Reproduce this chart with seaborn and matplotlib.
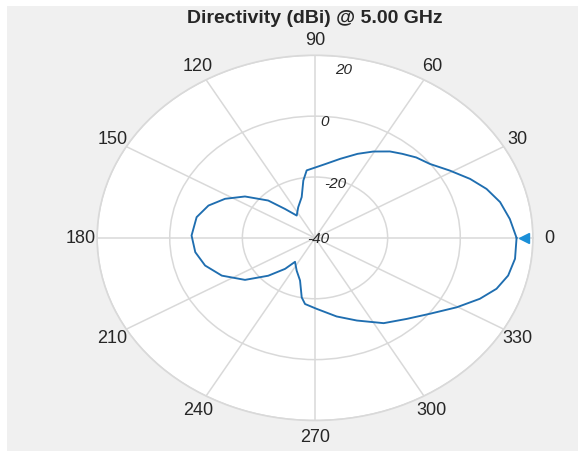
import numpy as np
import pandas as pd
import matplotlib.pyplot as plt
import seaborn as sns
from matplotlib.patches import Rectangle

# Directivity pattern (azimuth in degrees, value in dBi)
angles_deg = [0, 6.6, 13, 18.8, 24.4, 30.8, 37.5, 43.5, 49, 54, 60.5, 67, 75, 83, 90, 95.9,
              99.7, 105.3, 114.6, 124.5, 131, 136.4, 144.8, 152.6, 160.1, 168.2, 178.7, 188.1,
              196.7, 205.8, 215.6, 224, 231, 235, 244.9, 253.6, 259.4, 262.8, 271, 283, 293,
              304, 313.5, 321.8, 329.7, 336.2, 341.5, 346.9, 352.9, 360]
directivity_dbi = [15.5, 14.0, 12.3, 9.9, 6.9, 3.2, -0.1, -1.6, -3.4, -4.9, -7.4, -10.0, -13.1,
                   -15.5, -16.9, -17.7, -20.9, -26.1, -28.9, -31.1, -27.4, -22.2, -16.4, -12.1,
                   -8.8, -6.7, -6.0, -6.7, -8.4, -11.5, -16.3, -22.1, -26.9, -30.4, -28.1,
                   -25.4, -20.1, -18.1, -16.7, -13.5, -10.5, -6.2, -3.3, 0.3, 5.2, 9.6, 12.7,
                   14.6, 15.5, 15.5]

theta_ticks = [0, 30, 60, 90, 120, 150, 180, 210, 240, 270, 300, 330]
theta_labels = [str(t) for t in theta_ticks]
r_ticks = [-40, -20, 0, 20]
r_labels = ["-40", "-20", "0", "20"]

line_color = "#1f6eb0"
grid_color = "#d9d9d9"
text_color = "#262626"

sns.set_theme(style="white")
plt.rcParams['font.family'] = ['Liberation Sans', 'DejaVu Sans']

df = pd.DataFrame({"theta": np.deg2rad(angles_deg), "dbi": directivity_dbi})

fig = plt.figure(figsize=(5.78, 4.52), dpi=100)
fig.patch.set_facecolor("white")
fig.patches.append(Rectangle((7 / 578, 0), 1, (452 - 7) / 452, transform=fig.transFigure,
                             facecolor="#f0f0f0", edgecolor="none", zorder=-10))

ax = fig.add_axes([0.168, 0.0675, 0.754, 0.808], projection="polar")
ax.set_aspect("auto")
ax.set_facecolor("white")

sns.lineplot(data=df, x="theta", y="dbi", ax=ax, color=line_color, lw=1.35, sort=False)

# peak marker just outside the main lobe
peak = int(np.argmax(directivity_dbi))
ax.plot(np.deg2rad(angles_deg[peak]), 17.6, marker="<", ms=7, color="#1a8fd8", clip_on=False)

ax.set_ylim(-40, 20)
ax.set_xticks(np.deg2rad(theta_ticks))
ax.set_xticklabels(theta_labels)
ax.set_yticks(r_ticks)
ax.set_yticklabels([])
ax.set_xlabel("")
ax.set_ylabel("")

# radial labels sit just inside their rings, near the 80 degree spoke
label_spots = {-40: (0, -39.2), -20: (73, -21.0), 0: (86, -1.5), 20: (82, 16.0)}
for val, lab in zip(r_ticks, r_labels):
    ang, rr = label_spots[val]
    ax.text(np.deg2rad(ang), rr, lab, ha="center", va="center", fontsize=11,
            style="italic", color=text_color)

ax.grid(True, color=grid_color, lw=1.1)
ax.spines["polar"].set_color(grid_color)
ax.spines["polar"].set_linewidth(1.2)
ax.tick_params(axis="x", pad=-1.5, labelsize=13, colors=text_color)

ax.set_title("Directivity (dBi) @ 5.00 GHz", fontsize=14, fontweight="bold",
             color=text_color, y=1.0, pad=24)

fig.savefig("out.png", dpi=100, facecolor=fig.get_facecolor())
